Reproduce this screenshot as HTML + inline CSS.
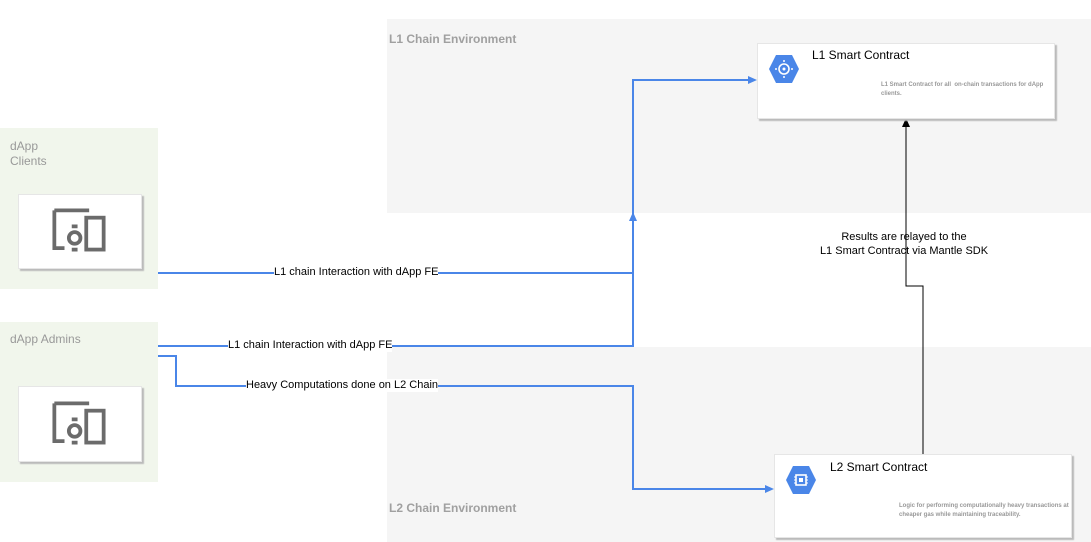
<!DOCTYPE html>
<html><head><meta charset="utf-8"><style>
body{margin:0;width:1091px;height:542px;background:#fff;position:relative;overflow:hidden;font-family:"Liberation Sans",sans-serif}
.a{position:absolute}
.env{background:#f5f5f5}
.envl{font-size:12px;font-weight:bold;color:#a0a0a0}
.grp{background:#f1f6ec}
.gl{font-size:12px;color:#999;line-height:15px}
.card{background:#fff;box-shadow:2px 2px 1px #bbb;border:1px solid #e6e6e6;box-sizing:border-box}
.lbl{font-size:11px;color:#000;background:#fff;line-height:13px;white-space:nowrap}
.t{font-size:12px;color:#000}
.d{font-size:6px;font-weight:bold;color:#999;line-height:9px}
</style></head><body>
<div class="a env" style="left:387px;top:19px;width:704px;height:194px"></div>
<div class="a envl" style="left:389px;top:32px">L1 Chain Environment</div>
<div class="a env" style="left:387px;top:347px;width:704px;height:195px"></div>
<div class="a envl" style="left:389px;top:501px">L2 Chain Environment</div>

<div class="a grp" style="left:0;top:128px;width:158px;height:161px"></div>
<div class="a gl" style="left:10px;top:139px">dApp<br>Clients</div>
<div class="a card" style="left:18px;top:194px;width:124px;height:75px"></div>
<div class="a grp" style="left:0;top:322px;width:158px;height:160px"></div>
<div class="a gl" style="left:10px;top:332px">dApp Admins</div>
<div class="a card" style="left:18px;top:386px;width:124px;height:76px"></div>

<svg class="a" style="left:0;top:0" width="1091" height="542">
<defs><g id="dev" fill="none" stroke="#6b6b6b" stroke-width="2.6"><path d="M-24 -15 H0 M-24 -15 V11 H-17"/><circle cx="-10" cy="4" r="4"/><path d="M-12 -4 h4 M-12 12 h4"/><rect x="-2" y="-10" width="12" height="22"/></g></defs>
<g transform="translate(79,230) scale(1.45) translate(7,1.5)"><use href="#dev"/></g>
<g transform="translate(79,423) scale(1.45) translate(7,1.5)"><use href="#dev"/></g>
<g fill="none" stroke="#4a86e8" stroke-width="2">
<path d="M158 273 H633 M158 346 H633 V80 H750"/>
<path d="M158 356 H176 V386 H633 V489 H767"/>
</g>
<g fill="#4a86e8"><path d="M757 80 l-9 -4 v8z"/><path d="M774 489 l-9 -4 v8z"/><path d="M633 212 l-4 9 h8z"/></g>
<path d="M923 454 V286 H906 V126" fill="none" stroke="#000" stroke-width="1"/>
<path d="M906 118 l-4 9 h8z" fill="#000"/>
</svg>
<div class="a lbl" style="left:274px;top:266px">L1 chain Interaction with dApp FE</div>
<div class="a lbl" style="left:228px;top:339px">L1 chain Interaction with dApp FE</div>
<div class="a lbl" style="left:246px;top:379px">Heavy Computations done on L2 Chain</div>
<div class="a" style="left:804px;top:230px;width:200px;text-align:center;font-size:11px;line-height:14px">Results are relayed to the<br>L1 Smart Contract via Mantle SDK</div>

<div class="a card" style="left:757px;top:43px;width:298px;height:76px"></div>
<svg class="a" style="left:768px;top:53px" width="32" height="32"><polygon points="8,2 24,2 31,16 24,30 8,30 1,16" fill="#4a86e8"/><circle cx="16" cy="16" r="5" fill="none" stroke="#fff" stroke-width="1.6"/><circle cx="16" cy="16" r="1.5" fill="#fff"/><path d="M16 7v2M16 23v2M7 16h2M23 16h2" stroke="#fff" stroke-width="1.5"/></svg>
<div class="a t" style="left:812px;top:48px">L1 Smart Contract</div>
<div class="a d" style="left:881px;top:81px;width:170px">L1 Smart Contract for all &nbsp;on-chain transactions for dApp clients.</div>

<div class="a card" style="left:774px;top:454px;width:298px;height:84px"></div>
<svg class="a" style="left:785px;top:464px" width="32" height="32"><polygon points="8,2 24,2 31,16 24,30 8,30 1,16" fill="#4a86e8"/><rect x="11" y="11" width="10" height="10" fill="none" stroke="#fff" stroke-width="1.6"/><rect x="14" y="14" width="4" height="4" fill="#fff"/><path d="M9 13h2M9 16h2M9 19h2M21 13h2M21 16h2M21 19h2" stroke="#fff" stroke-width="1"/></svg>
<div class="a t" style="left:830px;top:460px">L2 Smart Contract</div>
<div class="a d" style="left:899px;top:502px;width:172px">Logic for performing computationally heavy transactions at cheaper gas while maintaining traceability.</div>
</body></html>
